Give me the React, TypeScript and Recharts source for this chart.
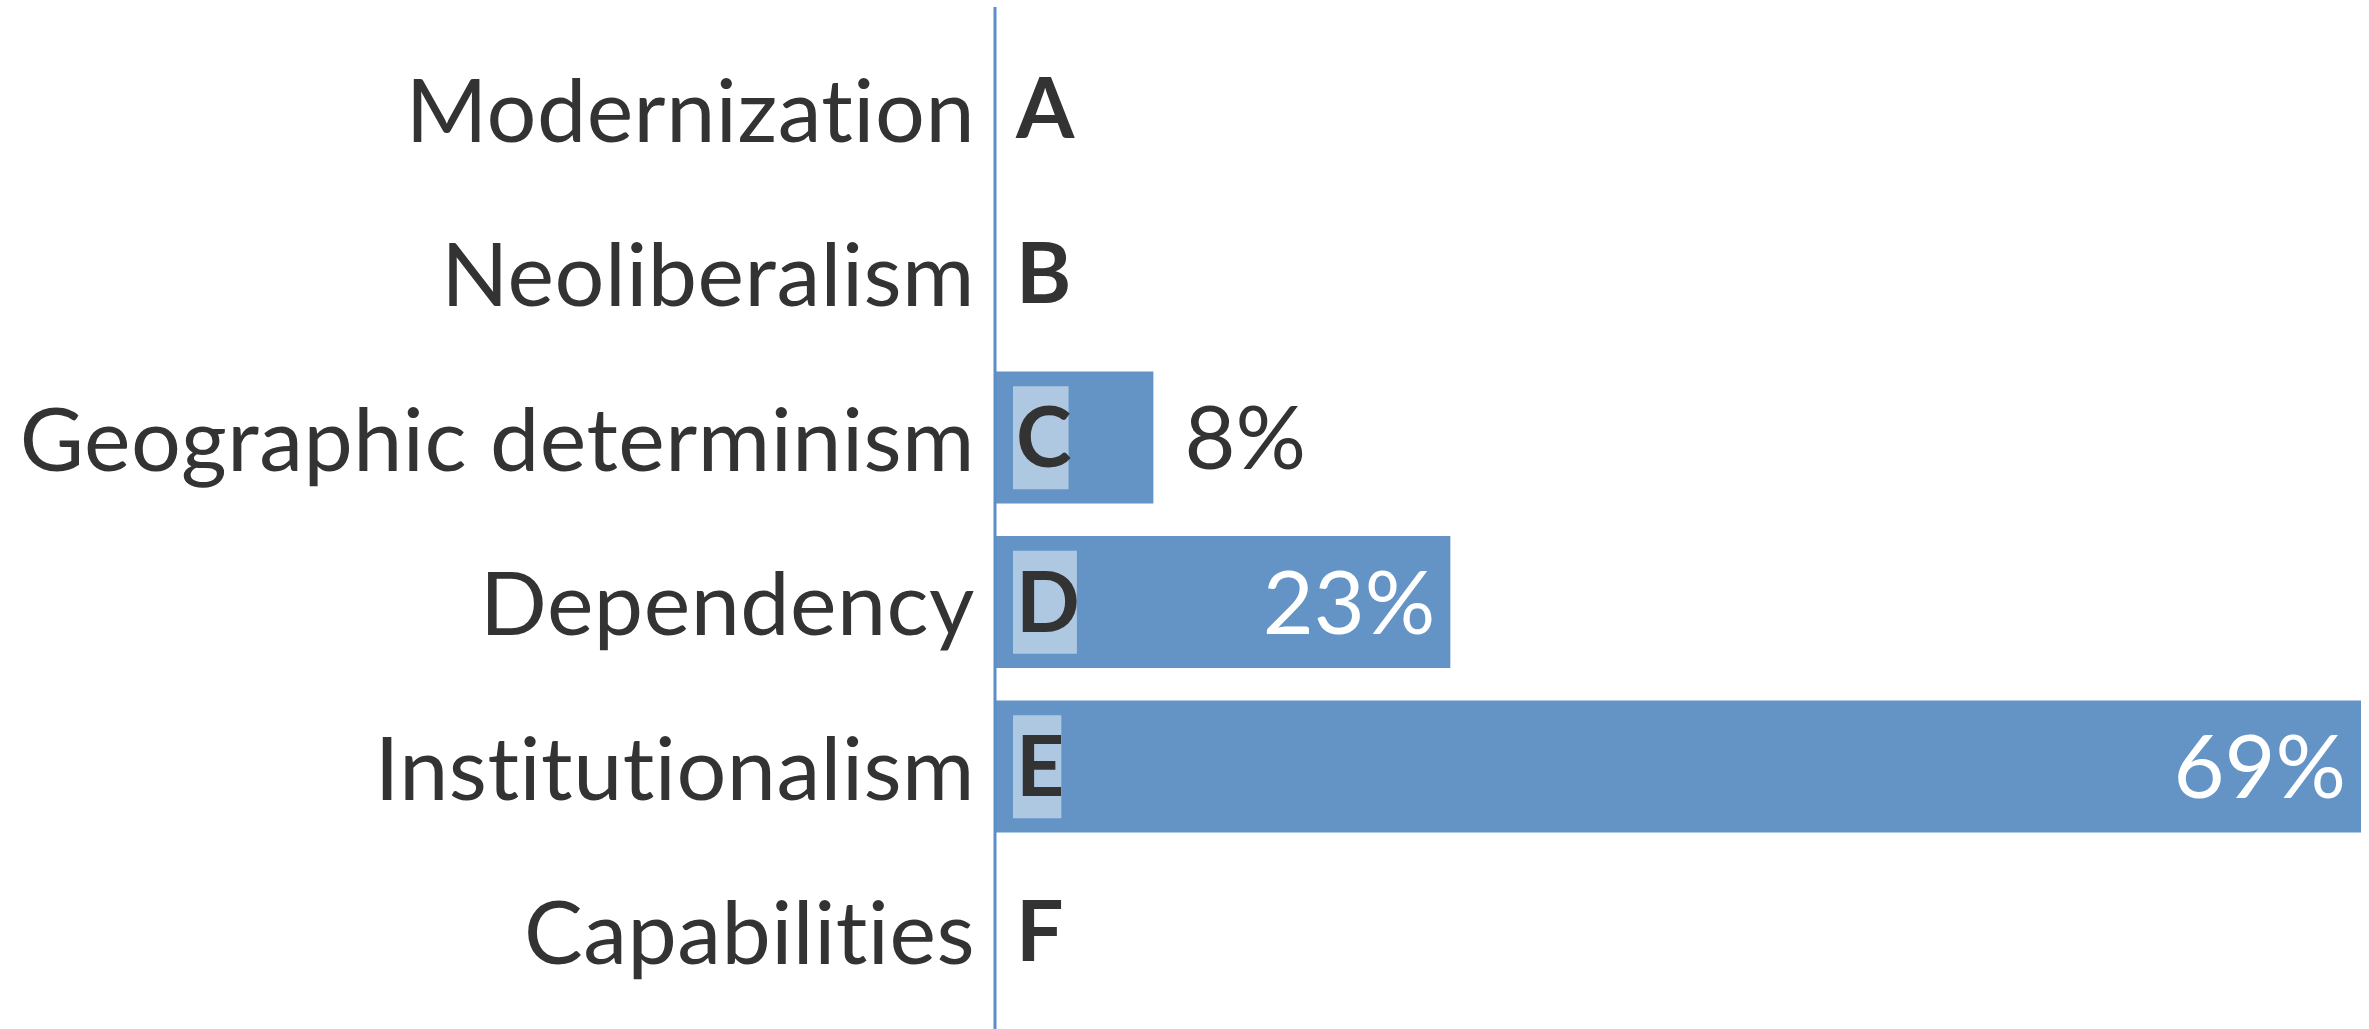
import { useLayoutEffect, useRef, useState } from "react";
import { BarChart, Bar, XAxis, YAxis, LabelList } from "recharts";

// categories (top -> bottom), their letter tags and share in %
const categories = [
  "Modernization",
  "Neoliberalism",
  "Geographic determinism",
  "Dependency",
  "Institutionalism",
  "Capabilities",
];
const letters = ["A", "B", "C", "D", "E", "F"];
const shares = [0, 0, 8, 23, 69, 0];

const BAR_COLOR = "#6394C5";
const TAG_COLOR = "#AEC8E2";
const AXIS_COLOR = "#5B8EC9";
const TEXT_COLOR = "#333333";
const FONT = "Lato, 'Open Sans', sans-serif";
const FONT_SIZE = 88;
const AXIS_X = 995;

const data = categories.map((name, i) => ({
  name,
  letter: letters[i],
  share: shares[i],
}));

// letter right of the axis, with a light tag behind it when the row has a bar
function LetterTag({ y, letter, tagged }: { y: number; letter: string; tagged: boolean }) {
  const ref = useRef<SVGTextElement>(null);
  const [w, setW] = useState(0);

  useLayoutEffect(() => {
    if (ref.current) setW(ref.current.getBBox().width);
  }, [letter]);

  const tx = AXIS_X + 21;
  return (
    <g>
      {tagged && w > 0 && (
        <rect x={tx - 3} y={y - 51} width={w} height={103} fill={TAG_COLOR} />
      )}
      <text
        ref={ref}
        x={tx}
        y={y}
        dy="0.36em"
        fill={TEXT_COLOR}
        fontFamily={FONT}
        fontSize={84}
        fontWeight={700}
      >
        {letter}
      </text>
    </g>
  );
}

// category name on the left + letter tag on the right of the axis
function CategoryTick(props: any) {
  const { x, y, payload } = props;
  const idx = payload?.index ?? categories.indexOf(payload?.value);
  return (
    <g>
      <text
        x={x}
        y={y}
        dy="0.38em"
        textAnchor="end"
        fill={TEXT_COLOR}
        fontFamily={FONT}
        fontSize={FONT_SIZE}
        letterSpacing={0.5}
        style={{ fontVariantLigatures: "none" }}
      >
        {payload?.value}
      </text>
      <LetterTag y={y} letter={letters[idx]} tagged={shares[idx] > 0} />
    </g>
  );
}

// percent label: white inside long bars, dark just after short ones
function ShareLabel(props: any) {
  const vb = props.viewBox ?? props;
  const x = Number(vb.x ?? 0);
  const y = Number(vb.y ?? 0);
  const width = Number(vb.width ?? 0);
  const height = Number(vb.height ?? 0);
  const v = Number(props.value) || 0;
  if (v <= 0) return null;
  const inside = v >= 15;
  return (
    <text
      x={inside ? x + width - 15 : x + width + 31}
      y={y + height / 2}
      dy="0.36em"
      textAnchor={inside ? "end" : "start"}
      fill={inside ? "#FFFFFF" : TEXT_COLOR}
      fontFamily={FONT}
      fontSize={FONT_SIZE}
    >
      {`${v}%`}
    </text>
  );
}

export default function App() {
  return (
    <div style={{ position: "absolute", left: 0, top: 0, background: "#fff" }}>
      <BarChart
        width={2369}
        height={1029}
        data={data}
        layout="vertical"
        margin={{ top: 7, right: 8, left: 0, bottom: 0 }}
        barCategoryGap="10%"
      >
        <XAxis type="number" hide domain={[0, "dataMax"]} />
        <Bar dataKey="share" fill={BAR_COLOR} isAnimationActive={false}>
          <LabelList dataKey="share" content={ShareLabel} />
        </Bar>
        <YAxis
          type="category"
          dataKey="name"
          width={AXIS_X}
          padding={{ top: 19, bottom: 16 }}
          axisLine={{ stroke: AXIS_COLOR, strokeWidth: 3 }}
          tickLine={false}
          tickSize={0}
          tickMargin={20}
          interval={0}
          tick={<CategoryTick />}
        />
      </BarChart>
    </div>
  );
}
